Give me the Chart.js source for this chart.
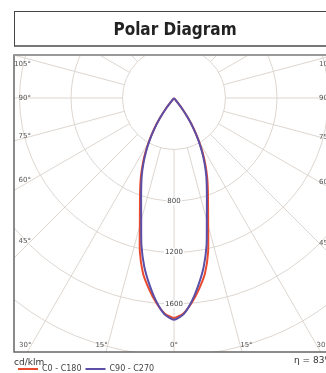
<!DOCTYPE html>
<html>
<head>
<meta charset="utf-8">
<script src="https://cdn.jsdelivr.net/npm/chart.js@4/dist/chart.umd.min.js"></script>
<style>
    html, body { margin: 0; padding: 0; background: #fff; overflow: hidden; width: 326px; height: 373px; }
    #wrap { position: absolute; left: 0; top: 0; }
    #title {
        position: absolute; left: 14px; top: 11px; width: 320px; height: 33px;
        border-left: 1px solid #444; border-top: 1px solid #444; border-bottom: 2px solid #777;
        font: bold 17px 'DejaVu Sans Condensed', 'DejaVu Sans', sans-serif; font-stretch: condensed;
        text-align: center; line-height: 34px; color: #222;
    }
</style>
</head>
<body>
<div id="wrap"><canvas id="chart"></canvas></div>
<div id="title">Polar Diagram</div>
<script>
// gamma angles (deg) and luminous intensity (cd/klm), mirrored for both half planes
const angles   = [0, 2.5, 5, 7.5, 10, 12.5, 15, 17.5, 20, 22.5, 25, 27.5, 30, 32.5, 35, 37.5, 40, 60, 90];
const c0_c180  = [1708, 1675, 1595, 1495, 1385, 1225, 1025, 880, 770, 675, 580, 485, 388, 292, 195, 98, 0, 0, 0];
const c90_c270 = [1722, 1682, 1585, 1462, 1330, 1170, 985, 850, 745, 655, 563, 471, 378, 284, 190, 95, 0, 0, 0];

const ringValues   = [400, 800, 1200, 1600, 2000, 2400, 2800, 3200, 3600];
const ringLabels   = [800, 1200, 1600];
const angleLabels  = [0, 15, 30, 45, 60, 75, 90, 105];
const seriesNames  = ['C0 - C180', 'C90 - C270'];
const efficiency   = 'η = 83%';

// axis ranges (cd/klm), equal scale on both axes
const X_RANGE = 1243;
const Y_TOP = 334;
const Y_BOTTOM = -1973;

function toPoints(values) {
    const pts = [];
    for (let i = angles.length - 1; i >= 0; i--) {
        const a = angles[i] * Math.PI / 180;
        pts.push({ x: -values[i] * Math.sin(a), y: -values[i] * Math.cos(a) });
    }
    for (let i = 1; i < angles.length; i++) {
        const a = angles[i] * Math.PI / 180;
        pts.push({ x: values[i] * Math.sin(a), y: -values[i] * Math.cos(a) });
    }
    return pts;
}

const polarGrid = {
    id: 'polarGrid',
    beforeDatasetsDraw(chart) {
        const { ctx, chartArea: area, scales: { x, y } } = chart;
        const cx = x.getPixelForValue(0), cy = y.getPixelForValue(0);
        const px = v => x.getPixelForValue(v) - cx;
        ctx.save();
        ctx.beginPath();
        ctx.rect(area.left, area.top, area.width, area.height);
        ctx.clip();
        ctx.strokeStyle = '#ddd6d0';
        ctx.lineWidth = 1;
        ringValues.forEach(v => {
            ctx.beginPath();
            ctx.arc(cx, cy, px(v), 0, Math.PI * 2);
            ctx.stroke();
        });
        const r0 = px(ringValues[0]), r1 = px(ringValues[ringValues.length - 1]);
        for (let a = 0; a < 360; a += 15) {
            const t = a * Math.PI / 180;
            ctx.beginPath();
            ctx.moveTo(cx + r0 * Math.sin(t), cy + r0 * Math.cos(t));
            ctx.lineTo(cx + r1 * Math.sin(t), cy + r1 * Math.cos(t));
            ctx.stroke();
        }
        ctx.restore();
    },
    afterDatasetsDraw(chart) {
        const { ctx, chartArea: area, scales: { x, y } } = chart;
        const cx = x.getPixelForValue(0), cy = y.getPixelForValue(0);
        ctx.save();

        // ring values on the 0° axis
        ctx.font = '7px "DejaVu Sans"';
        ctx.textAlign = 'center';
        ctx.textBaseline = 'middle';
        ringLabels.forEach(v => {
            const py = y.getPixelForValue(-v);
            const w = ctx.measureText(String(v)).width;
            ctx.fillStyle = '#fff';
            ctx.fillRect(cx - w / 2 - 1, py - 4, w + 2, 8);
            ctx.fillStyle = '#444';
            ctx.fillText(String(v), cx, py);
        });

        // angle labels where the rays meet the inner box
        const leftX = area.left + 17, rightX = area.right - 15, bottomY = area.bottom - 7;
        angleLabels.forEach(a => {
            const t = a * Math.PI / 180;
            [-1, 1].forEach(side => {
                if (a === 0 && side > 0) return;
                const dx = Math.sin(t), dy = Math.cos(t);
                let k = Infinity;
                if (dx > 1e-6) k = Math.min(k, (side < 0 ? cx - leftX : rightX - cx) / dx);
                if (dy > 1e-6) k = Math.min(k, (bottomY - cy) / dy);
                const lx = cx + side * k * dx;
                const ly = Math.max(cy + k * dy, area.top + 9);
                ctx.textAlign = a === 0 ? 'center' : (side < 0 ? 'right' : 'left');
                ctx.fillStyle = '#555';
                ctx.fillText(a + '°', lx, ly);
            });
        });

        // frame
        ctx.strokeStyle = '#666';
        ctx.lineWidth = 1.5;
        ctx.strokeRect(area.left, area.top, area.width, area.height);
        ctx.strokeStyle = '#999';
        ctx.lineWidth = 2;
        ctx.beginPath();
        ctx.moveTo(area.left, area.top);
        ctx.lineTo(area.right, area.top);
        ctx.stroke();

        // efficiency note
        ctx.font = '9px "DejaVu Sans"';
        ctx.textAlign = 'right';
        ctx.fillStyle = '#333';
        ctx.fillText(efficiency, area.right - 1, area.bottom + 9);
        ctx.restore();
    }
};

Chart.defaults.font.family = '"DejaVu Sans", sans-serif';
const canvas = document.getElementById('chart');

function build(h) {
    canvas.width = 336;
    canvas.height = h;
    canvas.style.width = '336px';
    canvas.style.height = h + 'px';
    return new Chart(canvas, {
        type: 'scatter',
        data: {
            datasets: [
                { label: seriesNames[0], data: toPoints(c0_c180), borderColor: '#ea4a2f', backgroundColor: '#ea4a2f',
                  showLine: true, borderWidth: 2, pointRadius: 0, tension: 0.2, order: 2 },
                { label: seriesNames[1], data: toPoints(c90_c270), borderColor: '#5a4ea6', backgroundColor: '#5a4ea6',
                  showLine: true, borderWidth: 2, pointRadius: 0, tension: 0.2, order: 1 }
            ]
        },
        options: {
            responsive: false,
            animation: false,
            devicePixelRatio: 1,
            layout: { padding: { top: 55, left: 14, right: 2, bottom: 0 } },
            scales: {
                x: { type: 'linear', min: -X_RANGE, max: X_RANGE, display: false },
                y: { type: 'linear', min: Y_BOTTOM, max: Y_TOP, display: false }
            },
            plugins: {
                legend: {
                    position: 'bottom',
                    align: 'start',
                    title: { display: true, text: 'cd/klm', position: 'start', color: '#333',
                             font: { size: 9, lineHeight: 1 }, padding: { top: 6, bottom: -6 } },
                    labels: { usePointStyle: true, pointStyle: 'line', pointStyleWidth: 20,
                              font: { size: 8 }, color: '#444', padding: 4,
                              sort: (a, b) => a.datasetIndex - b.datasetIndex }
                },
                tooltip: { enabled: false }
            }
        },
        plugins: [polarGrid]
    });
}

let chart = build(392);
const diff = Math.round(352 - chart.chartArea.bottom);
if (diff !== 0) {
    chart.destroy();
    chart = build(392 + diff);
}
</script>
</body>
</html>
